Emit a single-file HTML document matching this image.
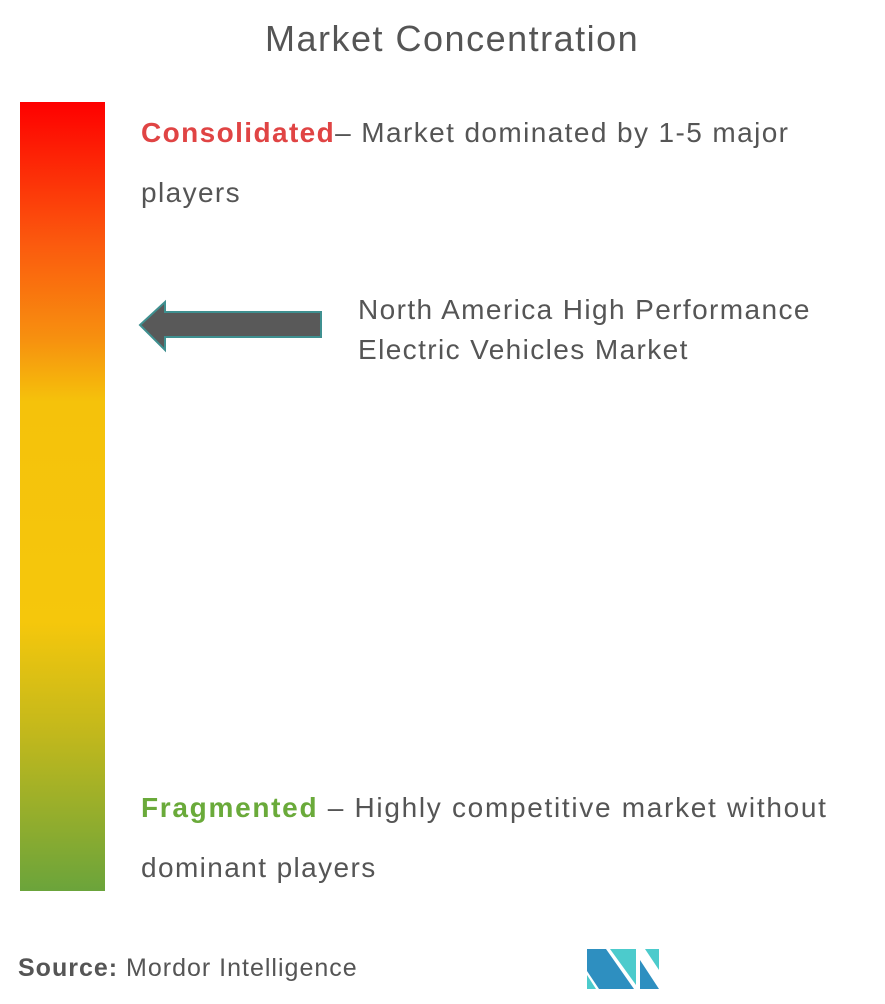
<!DOCTYPE html>
<html><head><style>
body{margin:0;width:885px;height:1004px;background:#fff;position:relative;font-family:"Liberation Sans",sans-serif;color:#555;overflow:hidden}
.t{position:absolute;white-space:nowrap}
.b{font-size:28px;letter-spacing:1.4px}
</style></head><body>
<div class="t" style="left:265px;top:18px;font-size:36px;letter-spacing:1.5px">Market Concentration</div>
<div style="position:absolute;left:20px;top:102px;width:85px;height:789px;background:linear-gradient(#fe0000 0%,#fb5a0e 18%,#f7900f 30%,#f5c20b 38%,#f5c70c 66%,#c2b81c 80%,#6ba43b 100%)"></div>
<div class="t b" style="left:141px;top:117px;"><b style="color:#e04444">Consolidated</b>– Market dominated by 1-5 major</div>
<div class="t b" style="left:141px;top:177px;">players</div>
<div class="t b" style="left:358px;top:290px;line-height:40px">North America High Performance<br>Electric Vehicles Market</div>
<div class="t b" style="left:141px;top:792px;letter-spacing:1.7px"><b style="color:#6aaa3a">Fragmented</b> – Highly competitive market without</div>
<div class="t b" style="left:141px;top:852px;">dominant players</div>
<div class="t" style="left:18px;top:954px;font-size:25px;letter-spacing:1px"><b>Source:</b> Mordor Intelligence</div>
<svg style="position:absolute;left:0;top:0" width="885" height="1004">
<polygon points="140,325 165,302 165,312 321,312 321,337 165,337 165,350" fill="#595959" stroke="#3f9090" stroke-width="2"/>
<polygon points="587,949 606,949 634,989 599,989 587,971" fill="#2e8fc0"/>
<polygon points="587,975 596,989 587,989" fill="#4ccbcc"/>
<polygon points="610,949 636,949 636,985" fill="#4ccbcc"/>
<polygon points="640,949 645,949 659,970 659,949" fill="#4ccbcc"/>
<polygon points="640,960 659,989 640,989" fill="#2e8fc0"/>
</svg>
</body></html>
